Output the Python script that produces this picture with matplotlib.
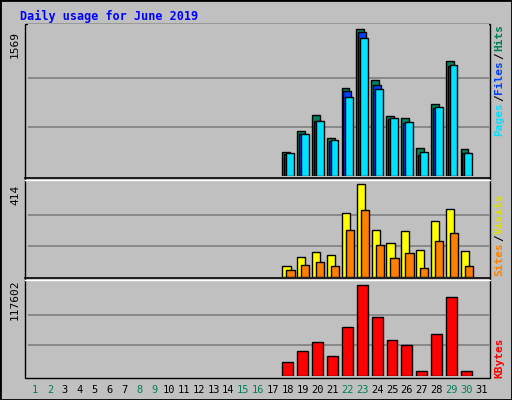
import matplotlib
matplotlib.use("Agg")
import matplotlib.pyplot as plt
import numpy as np
from matplotlib.patches import Rectangle
from matplotlib.lines import Line2D

days = list(range(1, 32))
active = list(range(18, 31))
hits = [256, 480, 651, 405, 939, 1569, 1025, 640, 619, 299, 768, 1227, 288]
files = [235, 448, 587, 374, 907, 1537, 971, 608, 566, 224, 726, 1174, 245]
pages = [245, 448, 587, 384, 843, 1473, 928, 619, 576, 256, 736, 1185, 245]
visits = [46, 87, 108, 95, 283, 414, 207, 149, 203, 117, 247, 301, 113]
sites = [27, 50, 63, 45, 207, 297, 140, 81, 104, 36, 158, 194, 45]
kbytes = [17300, 31500, 43200, 25100, 62500, 117602, 75500, 45700, 39300, 5700, 53500, 101300, 5700]
weekends = [1, 2, 8, 9, 15, 16, 22, 23, 29, 30]

W, H = 512, 400
fig = plt.figure(figsize=(W/100, H/100), dpi=100, facecolor="#C0C0C0")
mono = "DejaVu Sans Mono"

def ax_px(x0, y0, x1, y1):
    return fig.add_axes([x0/W, 1-y1/H, (x1-x0)/W, (y1-y0)/H])

fig.add_artist(Rectangle((0, 0), 1, 1, transform=fig.transFigure, fill=False, ec="black", lw=2))
fig.add_artist(Rectangle((25/W, 1-378/H), 465/W, 354/H, transform=fig.transFigure,
                         fill=True, fc="#C0C0C0", ec="black", lw=1, zorder=0))

x0, x1 = 27.6, 488.7
x = np.array(active, dtype=float)
ec = dict(edgecolor="black", linewidth=1)

def setup(ax, top, frac_top):
    ax.set_xlim(0.5, 31.5)
    ax.set_ylim(0, top/frac_top)
    ax.set_facecolor("#C0C0C0")
    for s in ax.spines.values():
        s.set_visible(False)
    ax.set_xticks([]); ax.set_yticks([])
    for f in (1/3, 2/3):
        ax.axhline(top*f, color="#808080", lw=1.2, zorder=0)

ax1 = ax_px(x0, 24, x1, 176)
setup(ax1, 1569, 147/152)
ax1.bar(x - 0.13, hits, width=0.53, color="#00805C", zorder=2, **ec)
ax1.bar(x, files, width=0.53, color="#0040FF", zorder=3, **ec)
ax1.bar(x + 0.13, pages, width=0.53, color="#00E0FF", zorder=4, **ec)

ax2 = ax_px(x0, 180, x1, 276.5)
setup(ax2, 414, 92.5/96.5)
ax2.bar(x - 0.1, visits, width=0.55, color="#FFFF00", zorder=2, **ec)
ax2.bar(x + 0.17, sites, width=0.55, color="#FF8000", zorder=3, **ec)

ax3 = ax_px(x0, 280, x1, 375.7)
setup(ax3, 117602, 91/95.7)
ax3.bar(x, kbytes, width=0.73, color="#FF0000", zorder=2, **ec)

for y in (178, 278):
    fig.add_artist(Line2D([25/W, 490/W], [1-y/H, 1-y/H], color="black", lw=1.2))
    fig.add_artist(Line2D([25/W, 490/W], [1-(y+1.5)/H, 1-(y+1.5)/H], color="white", lw=1))

fig.text(20/W, 1-16/H, "Daily usage for June 2019", color="#0000FF", fontsize=8.5,
         fontweight="bold", family=mono, va="center", ha="left")

for lab, yc in (("1569", 44), ("414", 195), ("117602", 300)):
    fig.text(15/W, 1-yc/H, lab, rotation=90, fontsize=8, family=mono, ha="center", va="center")

renderer = fig.canvas.get_renderer()

def vlabel(parts, ybottom):
    # parts listed bottom to top; text reads bottom-to-top
    y = ybottom
    for txt, col in parts:
        t = fig.text(499/W, 1-y/H, txt, rotation=90, fontsize=8, family=mono, color=col,
                     ha="center", va="bottom", fontweight="bold")
        bb = t.get_window_extent(renderer)
        y -= bb.height + 1

vlabel([("Pages", "#00E0FF"), ("/", "black"), ("Files", "#0040FF"), ("/", "black"), ("Hits", "#00805C")], 136)
vlabel([("Sites", "#FF8000"), ("/", "black"), ("Visits", "#E0E000")], 276)
vlabel([("KBytes", "#FF0000")], 378)

for d in days:
    xp = x0 + (d - 0.5)/31*(x1 - x0)
    fig.text(xp/W, 1-390/H, str(d), fontsize=7.5, family=mono, ha="center", va="center",
             color="#00805C" if d in weekends else "black")

fig.savefig("out.png", dpi=100, facecolor=fig.get_facecolor())
